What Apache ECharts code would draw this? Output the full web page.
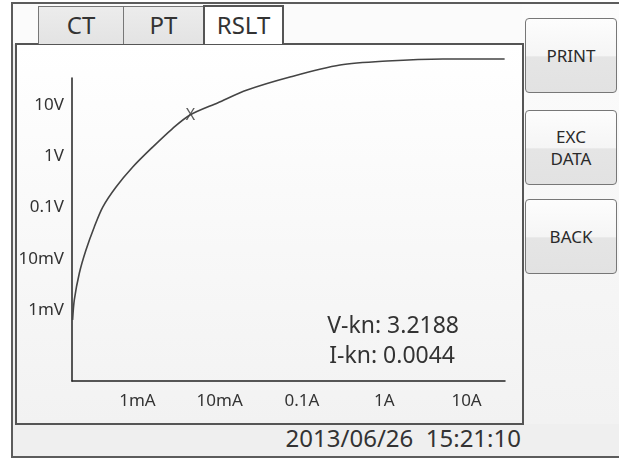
<!DOCTYPE html>
<html>
<head>
<meta charset="utf-8">
<script src="https://cdn.jsdelivr.net/npm/echarts@6/dist/echarts.min.js"></script>
<style>
  html, body { margin: 0; padding: 0; width: 619px; height: 458px; overflow: hidden; background: #fff; }
  * { box-sizing: border-box; }
  .abs { position: absolute; }
  body { font-family: "Noto Sans", "Open Sans", sans-serif; color: #333; }
  #frame { left: 11px; top: 2px; width: 612px; height: 456px; border: 2px solid #5c5c5c; background: #efefef; }
  #topband { left: 13px; top: 4px; width: 606px; height: 40px; background: #fbfbfb; }
  #rightcol { left: 522px; top: 4px; width: 97px; height: 420px; background: linear-gradient(#fcfcfc, #f2f2f2); }
  #panel { left: 15px; top: 43px; width: 509px; height: 382px; border: 2px solid #555; background: linear-gradient(#ffffff, #f2f2f2); }
  .tab { top: 6px; height: 38px; border: 1px solid #777; border-bottom: none; background: linear-gradient(#ececec, #e3e3e3);
         font-size: 24px; line-height: 36px; text-align: center; color: #333; }
  #tabRslt { background: #fff; height: 39px; border: 2px solid #555; border-bottom: none; top: 5px; z-index: 2; }
  .btn { left: 525px; width: 92px; height: 75px; border: 1.5px solid #777; border-radius: 4px;
         background: linear-gradient(#fdfdfd 0%, #f5f5f5 50%, #e5e5e5 52%, #e2e2e2 100%);
         font-size: 17px; color: #2a2a2a; display: flex; align-items: center; justify-content: center; text-align: center; line-height: 22px; }
  #date { left: 250px; width: 271px; top: 423px; height: 32px; text-align: right; font-size: 24px; line-height: 30px; color: #333; white-space: pre; }
  #chart { left: 0; top: 0; width: 619px; height: 458px; z-index: 5; }
</style>
</head>
<body>
<div id="frame" class="abs"></div>
<div id="topband" class="abs"></div>
<div id="rightcol" class="abs"></div>
<div id="panel" class="abs"></div>
<div class="abs tab" style="left:38px;width:86px;">CT</div>
<div class="abs tab" style="left:123px;width:81px;">PT</div>
<div class="abs tab" id="tabRslt" style="left:203px;width:81px;">RSLT</div>
<div class="abs btn" style="top:18px;">PRINT</div>
<div class="abs btn" style="top:110px;">EXC<br>DATA</div>
<div class="abs btn" style="top:199px;">BACK</div>
<div id="date" class="abs">2013/06/26  15:21:10</div>
<div id="chart" class="abs"></div>

<script>
// excitation curve (current in A, voltage in V)
var currents = [1.63e-4, 1.71e-4, 1.97e-4, 2.37e-4, 2.99e-4, 3.79e-4, 5.50e-4, 8.77e-4, 1.53e-3, 2.63e-3, 4.35e-3,
                9.53e-3, 0.0215, 0.0714, 0.290, 1.08, 5.15, 29.0];
var voltages = [6.4e-4, 1.57e-3, 5.27e-3, 0.0148, 0.0417, 0.102, 0.251, 0.617, 1.51, 3.40, 6.38,
                11.1, 19.6, 35.2, 60.3, 72.3, 79.1, 79.1];

// knee point
var kneeI = 0.0044;
var kneeV = 3.2188;
var kneeMarkV = 6.38; // where the X sits on the drawn curve

var xTickValues = [0.001, 0.01, 0.1, 1, 10];
var xTickLabels = ['1mA', '10mA', '0.1A', '1A', '10A'];
var yTickValues = [0.001, 0.01, 0.1, 1, 10];
var yTickLabels = ['1mV', '10mV', '0.1V', '1V', '10V'];

function pickLabel(values, labels) {
  return function (v) {
    for (var i = 0; i < values.length; i++) {
      if (Math.abs(Math.log10(v) - Math.log10(values[i])) < 0.01) return labels[i];
    }
    return '';
  };
}

var curve = currents.map(function (c, i) { return [c, voltages[i]]; });

var chart = echarts.init(document.getElementById('chart'));
chart.setOption({
  backgroundColor: 'transparent',
  animation: false,
  grid: { left: 72, top: 78, right: 114, bottom: 77 },
  xAxis: {
    type: 'log',
    min: 1.603e-4,
    max: 29.3,
    axisLine: { show: true, lineStyle: { color: '#222', width: 1.5 } },
    axisTick: { show: false },
    splitLine: { show: false },
    axisLabel: {
      customValues: xTickValues,
      formatter: pickLabel(xTickValues, xTickLabels),
      color: '#333', fontSize: 17, margin: 12,
      fontFamily: 'Noto Sans'
    }
  },
  yAxis: {
    type: 'log',
    min: 4.12e-5,
    max: 33.65,
    axisLine: { show: true, lineStyle: { color: '#222', width: 1.5 } },
    axisTick: { show: false },
    splitLine: { show: false },
    axisLabel: {
      customValues: yTickValues,
      formatter: pickLabel(yTickValues, yTickLabels),
      color: '#333', fontSize: 17, margin: 8,
      fontFamily: 'Noto Sans'
    }
  },
  series: [
    {
      type: 'line',
      data: curve,
      smooth: 0.3,
      clip: false,
      showSymbol: false,
      lineStyle: { color: '#444', width: 1.6 }
    },
    {
      type: 'scatter',
      data: [[kneeI, kneeMarkV]],
      symbolSize: 0,
      clip: false,
      label: {
        show: true, position: 'inside', formatter: 'X',
        color: '#333', fontSize: 16, fontFamily: 'Noto Sans'
      }
    }
  ],
  graphic: [
    {
      type: 'text', right: 160, top: 315,
      style: { text: 'V-kn: ' + kneeV.toFixed(4), fill: '#333', font: '23px "Noto Sans"', textAlign: 'right' }
    },
    {
      type: 'text', right: 164, top: 345,
      style: { text: 'I-kn: ' + kneeI.toFixed(4), fill: '#333', font: '23px "Noto Sans"', textAlign: 'right' }
    }
  ]
});
</script>
</body>
</html>
